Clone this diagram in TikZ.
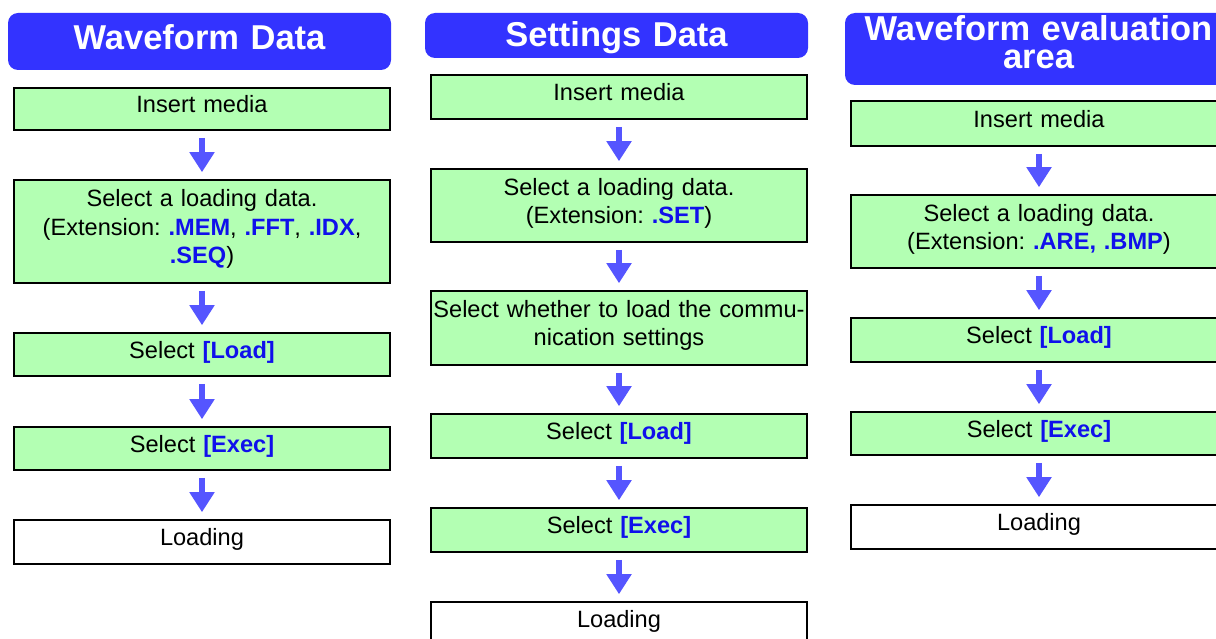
\documentclass[tikz,border=0pt]{standalone}
\usepackage{fontspec}
\setmainfont{Liberation Sans}
\usetikzlibrary{arrows.meta}
\frenchspacing
\definecolor{hblue}{RGB}{51,51,255}
\definecolor{lgreen}{RGB}{179,255,179}
\definecolor{ablue}{RGB}{85,85,255}
\definecolor{tblue}{RGB}{16,16,235}
\newcommand\bluet[1]{\textcolor{tblue}{\textbf{#1}}}
\tikzset{
  hdr/.style={fill=hblue, rounded corners=10pt, text=white, inner sep=0pt,
    font=\fontsize{34.5}{27.8}\bfseries\selectfont, align=center,
    text width=#1-6pt, minimum width=#1, text height=25pt},
  stepbox/.style={draw=black, line width=2.6pt, fill=lgreen, inner xsep=1pt, inner ysep=0pt,
    minimum width=376pt, text width=374pt, align=center,
    font=\fontsize{23.6}{28.3}\selectfont, text height=17pt, text depth=9.6pt},
  endbox/.style={stepbox, fill=white},
  flow/.style={draw=ablue, line width=5.5pt, -{Triangle[width=24pt,length=20pt]},
    shorten <=6.5pt, shorten >=6.5pt}
}
\begin{document}
\begin{tikzpicture}[x=1pt,y=-1pt]
\useasboundingbox (0,0) rectangle (1216,639);
\clip (0,0) rectangle (1216,639);
% column 1
\node[hdr=383pt, minimum height=57pt, text depth=8pt] (h1) at (199.5,41.5) {Waveform Data};
\node[stepbox, minimum height=42pt] (a1) at (202,109) {Insert media};
\node[stepbox, minimum height=103pt, text depth=66.2pt] (a2) at (202,231.5) {Select a loading data.\\(Extension: \bluet{.MEM}, \bluet{.FFT}, \bluet{.IDX},\\\bluet{.SEQ})};
\node[stepbox, minimum height=43pt] (a3) at (202,354.5) {Select \bluet{[Load]}};
\node[stepbox, minimum height=43pt] (a4) at (202,448.5) {Select \bluet{[Exec]}};
\node[endbox, minimum height=44pt] (a5) at (202,542) {Loading};
\draw[flow] (a1) -- (a2);
\draw[flow] (a2) -- (a3);
\draw[flow] (a3) -- (a4);
\draw[flow] (a4) -- (a5);
% column 2
\node[hdr=383pt, minimum height=45pt, text depth=2.6pt] (h2) at (616.5,35.5) {Settings Data};
\node[stepbox, minimum height=44pt] (b1) at (619,97) {Insert media};
\node[stepbox, minimum height=73pt, text depth=37.9pt] (b2) at (619,205.5) {Select a loading data.\\(Extension: \bluet{.SET})};
\node[stepbox, minimum height=74pt, text depth=37.9pt] (b3) at (619,328) {Select whether to load the commu-\\nication settings};
\node[stepbox, minimum height=44pt] (b4) at (619,436) {Select \bluet{[Load]}};
\node[stepbox, minimum height=44pt] (b5) at (619,530) {Select \bluet{[Exec]}};
\node[endbox, minimum height=44pt] (b6) at (619,624) {Loading};
\draw[flow] (b1) -- (b2);
\draw[flow] (b2) -- (b3);
\draw[flow] (b3) -- (b4);
\draw[flow] (b4) -- (b5);
\draw[flow] (b5) -- (b6);
% column 3
\node[hdr=387pt, minimum height=72pt, text depth=42.2pt] (h3) at (1038.5,49) {Waveform evaluation\\area};
\node[stepbox, minimum height=45pt] (c1) at (1039,123.5) {Insert media};
\node[stepbox, minimum height=73pt, text depth=37.9pt] (c2) at (1039,231.5) {Select a loading data.\\(Extension: \bluet{.ARE, .BMP})};
\node[stepbox, minimum height=44pt] (c3) at (1039,340) {Select \bluet{[Load]}};
\node[stepbox, minimum height=43pt] (c4) at (1039,433.5) {Select \bluet{[Exec]}};
\node[endbox, minimum height=44pt] (c5) at (1039,527) {Loading};
\draw[flow] (c1) -- (c2);
\draw[flow] (c2) -- (c3);
\draw[flow] (c3) -- (c4);
\draw[flow] (c4) -- (c5);
\end{tikzpicture}
\end{document}
